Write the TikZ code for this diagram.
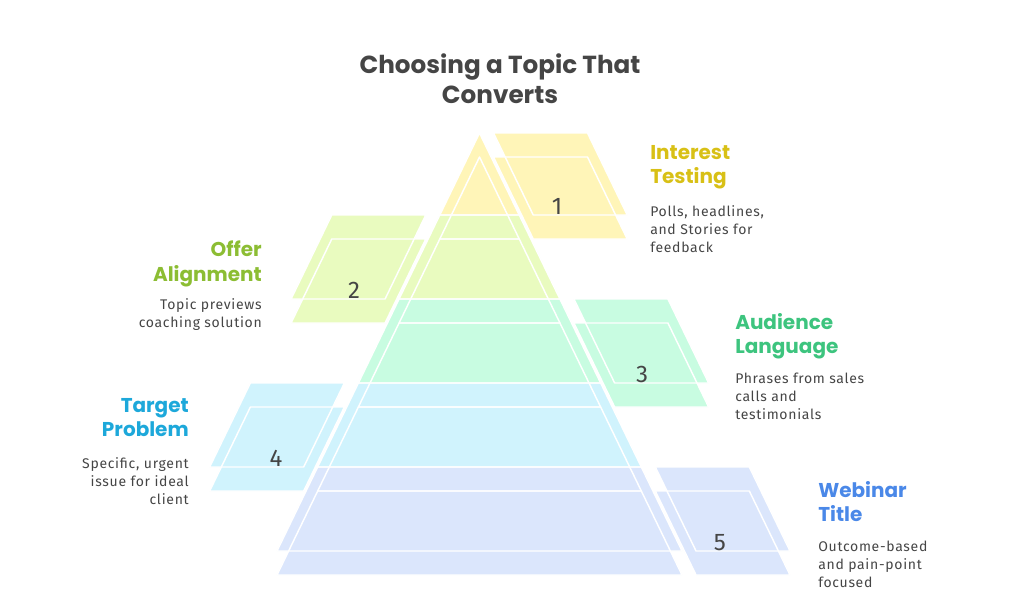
\documentclass[tikz,border=0pt]{standalone}
\usepackage{fontspec}
\setmainfont{Fira Sans}
\newfontfamily\headfont{Poppins}
\newfontfamily\bodyfont{Fira Sans}[LetterSpace=5]

\definecolor{txtgray}{HTML}{454545}
\definecolor{fillInterest}{HTML}{FFF5B8}
\definecolor{fillOffer}{HTML}{E9FBBF}
\definecolor{fillAudience}{HTML}{C8FCE1}
\definecolor{fillTarget}{HTML}{D0F3FD}
\definecolor{fillWebinar}{HTML}{DBE6FC}
\definecolor{headInterest}{HTML}{D8C016}
\definecolor{headOffer}{HTML}{8CBD33}
\definecolor{headAudience}{HTML}{3DC47E}
\definecolor{headTarget}{HTML}{1DA8DA}
\definecolor{headWebinar}{HTML}{4A88E8}

\def\pslope{0.4845}

\tikzset{
    outline/.style={draw=white, line width=1.1pt, line join=round},
    head/.style={font=\headfont\bfseries\fontsize{15}{18.4}\selectfont, inner sep=0pt},
    desc/.style={font=\bodyfont\fontsize{10.5}{13.5}\selectfont, text=txtgray, inner sep=0pt},
    numlabel/.style={font=\fontsize{18}{18}\selectfont, text=txtgray, anchor=base, inner sep=0pt}
}

\begin{document}
\begin{tikzpicture}[x=0.75pt, y=-0.75pt]
    \useasboundingbox (0,0) rectangle (1009,592);

    % Title
    \node[font=\headfont\bfseries\fontsize{18.5}{22.5}\selectfont, text=txtgray, align=center, anchor=north, inner sep=0pt] (title) at (500,53) {Choosing a Topic That\\Converts};

    % Pyramid slices, each filled twice (second copy 24px lower)
    \foreach \c/\ya/\yb in {fillInterest/133/215, fillOffer/215/299, fillAudience/299/383, fillTarget/383/467, fillWebinar/467/551} {
        \foreach \d in {0,24} {
            \fill[\c] ({479.5-\pslope*(\ya-133)},{\ya+\d}) -- ({479.5+\pslope*(\ya-133)},{\ya+\d})
                -- ({479.5+\pslope*(\yb-133)},{\yb+\d}) -- ({479.5-\pslope*(\yb-133)},{\yb+\d}) -- cycle;
        }
    }

    % Side tabs, same trick
    \foreach \c/\ya/\yb/\sd in {fillInterest/133/215/1, fillOffer/215/299/-1, fillAudience/299/383/1, fillTarget/383/467/-1, fillWebinar/467/551/1} {
        \foreach \d in {0,24} {
            \fill[\c] ({479.5+(\sd)*(\pslope*(\ya-133)+14)},{\ya+\d}) -- ({479.5+(\sd)*(\pslope*(\ya-133)+108)},{\ya+\d})
                -- ({479.5+(\sd)*(\pslope*(\yb-133)+108)},{\yb+\d}) -- ({479.5+(\sd)*(\pslope*(\yb-133)+14)},{\yb+\d}) -- cycle;
        }
    }

    % White outlines on top of all fills
    \foreach \ya/\yb in {133/215, 215/299, 299/383, 383/467, 467/551} {
        \foreach \d in {0,24} {
            \draw[outline] ({479.5-\pslope*(\ya-133)},{\ya+\d}) -- ({479.5+\pslope*(\ya-133)},{\ya+\d})
                -- ({479.5+\pslope*(\yb-133)},{\yb+\d}) -- ({479.5-\pslope*(\yb-133)},{\yb+\d}) -- cycle;
        }
    }
    \foreach \ya/\yb/\sd in {133/215/1, 215/299/-1, 299/383/1, 383/467/-1, 467/551/1} {
        \foreach \d in {0,24} {
            \draw[outline] ({479.5+(\sd)*(\pslope*(\ya-133)+14)},{\ya+\d}) -- ({479.5+(\sd)*(\pslope*(\ya-133)+108)},{\ya+\d})
                -- ({479.5+(\sd)*(\pslope*(\yb-133)+108)},{\yb+\d}) -- ({479.5+(\sd)*(\pslope*(\yb-133)+14)},{\yb+\d}) -- cycle;
        }
    }

    % Step numbers
    \node[numlabel] (num1) at (557,214) {1};
    \node[numlabel] (num2) at (354,298) {2};
    \node[numlabel] (num3) at (642,382) {3};
    \node[numlabel] (num4) at (276,466) {4};
    \node[numlabel] (num5) at (720,550) {5};

    % Labels on the right
    \node[head, text=headInterest, anchor=north west, align=left] (interest) at (650,145) {Interest\\Testing};
    \node[desc, anchor=north west, align=left] (interestText) at (650,205) {Polls, headlines,\\and Stories for\\feedback};
    \node[head, text=headAudience, anchor=north west, align=left] (audience) at (735,313) {Audience\\Language};
    \node[desc, anchor=north west, align=left] (audienceText) at (735,373) {Phrases from sales\\calls and\\testimonials};
    \node[head, text=headWebinar, anchor=north west, align=left] (webinar) at (818,481) {Webinar\\Title};
    \node[desc, anchor=north west, align=left] (webinarText) at (818,541) {Outcome-based\\and pain-point\\focused};

    % Labels on the left
    \node[head, text=headOffer, anchor=north east, align=right] (offer) at (262,241) {Offer\\Alignment};
    \node[desc, anchor=north east, align=right] (offerText) at (262,298) {Topic previews\\coaching solution};
    \node[head, text=headTarget, anchor=north east, align=right] (target) at (189,398) {Target\\Problem};
    \node[desc, anchor=north east, align=right] (targetText) at (189,457) {Specific, urgent\\issue for ideal\\client};
\end{tikzpicture}
\end{document}
